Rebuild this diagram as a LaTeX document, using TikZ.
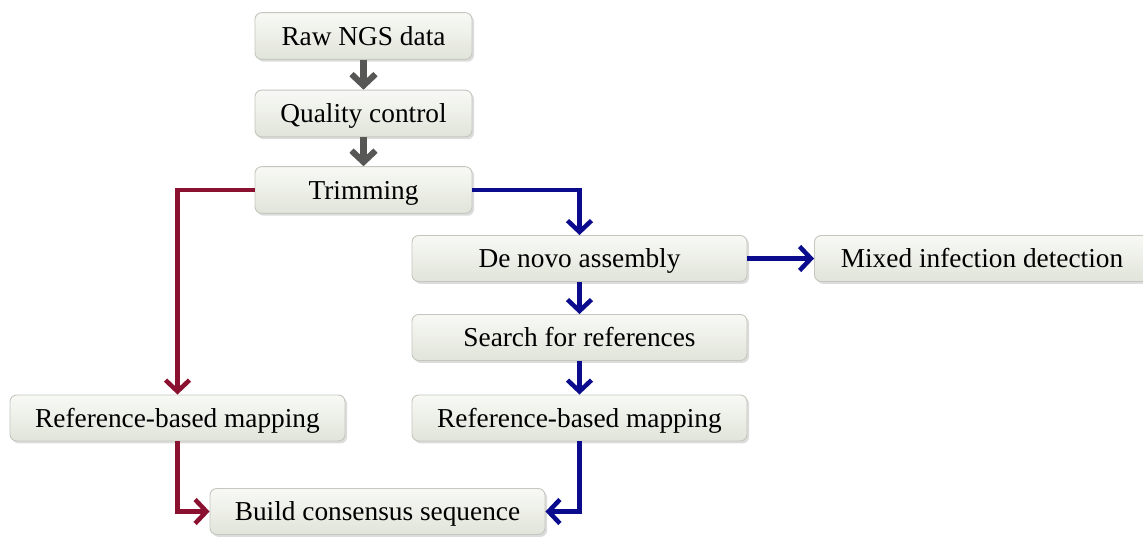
\documentclass[tikz,border=0pt]{standalone}
\usepackage{fontspec}
\setmainfont{Liberation Serif}
\usetikzlibrary{arrows.meta,shadows}

\definecolor{boxedge}{HTML}{C4C7BE}
\definecolor{boxtop}{HTML}{F8F9F5}
\definecolor{boxbottom}{HTML}{E1E4DA}
\definecolor{flowgray}{HTML}{575855}
\definecolor{flowred}{HTML}{8A1230}
\definecolor{flowblue}{HTML}{0B0B8E}

\tikzset{
  stepbox/.style={
    draw=boxedge, line width=0.7pt, rounded corners=5pt,
    top color=boxtop, bottom color=boxbottom,
    drop shadow={opacity=0.28, shadow xshift=1.6pt, shadow yshift=-1.8pt},
    font=\fontsize{20.5}{24}\selectfont, inner sep=0pt,
    text height=16pt, text depth=2pt
  },
  narrowbox/.style={stepbox, minimum width=162.75pt, minimum height=35pt},
  widebox/.style={stepbox, minimum width=251.25pt, minimum height=34.5pt},
  tip/.style={-{Straight Barb[length=8.5pt,width=18pt]}},
  grayflow/.style={tip, draw=flowgray, line width=4.6pt},
  redflow/.style={tip, draw=flowred, line width=3.4pt},
  blueflow/.style={tip, draw=flowblue, line width=3.4pt},
}

\begin{document}
\begin{tikzpicture}[x=0.75pt, y=-0.75pt]
  \useasboundingbox (0,0) rectangle (1143,536);

  % main pipeline
  \node[narrowbox] (raw)    at (363.5,36)    {Raw NGS data};
  \node[narrowbox] (qc)     at (363.5,113.5) {Quality control};
  \node[narrowbox] (trim)   at (363.5,190)   {Trimming};

  % de novo branch
  \node[widebox]   (denovo) at (579.5,258.5) {De novo assembly};
  \node[widebox]   (mixed)  at (982,258.5)   {Mixed infection detection};
  \node[widebox]   (search) at (579.5,337.5) {Search for references};
  \node[widebox]   (refR)   at (579.5,418)   {Reference-based mapping};

  % reference branch
  \node[widebox]   (refL)   at (177.5,418)   {Reference-based mapping};

  % final step
  \node[widebox]   (build)  at (377.5,511.5) {Build consensus sequence};

  % connectors
  \draw[grayflow] (raw) -- (qc);
  \draw[grayflow] (qc) -- (trim);

  \draw[redflow]  (trim.west) -| (refL.north);
  \draw[blueflow] (trim.east) -| (denovo.north);
  \draw[blueflow] (denovo) -- (mixed);
  \draw[blueflow] (denovo) -- (search);
  \draw[blueflow] (search) -- (refR);

  \draw[redflow]  (refL.south) |- (build.west);
  \draw[blueflow] (refR.south) |- (build.east);
\end{tikzpicture}
\end{document}
